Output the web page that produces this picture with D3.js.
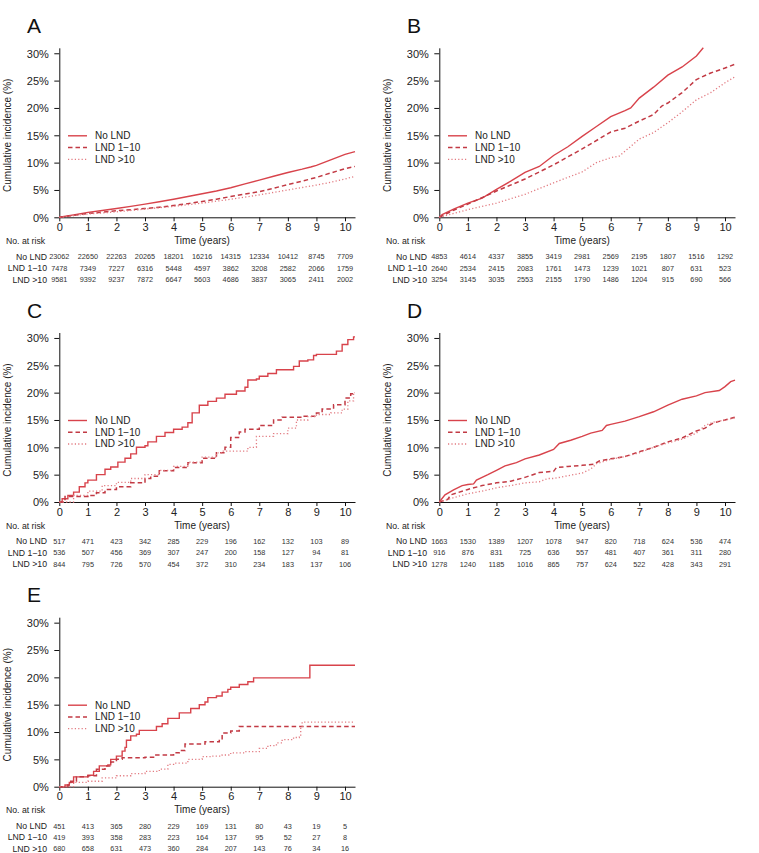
<!DOCTYPE html>
<html>
<head>
<meta charset="utf-8">
<script src="https://cdn.jsdelivr.net/npm/d3@7"></script>
<style>
html,body{margin:0;padding:0;background:#fff;}
svg{display:block;font-family:"Liberation Sans",Arial,Helvetica,sans-serif;}
</style>
</head>
<body>
<svg id="chart" width="759" height="853"></svg>
<script>
// ---------- DATA ----------
const seriesNames = ["No LND", "LND 1\u221210", "LND >10"];
const riskTimes = [0,1,2,3,4,5,6,7,8,9,10];
const xTicks = [0,1,2,3,4,5,6,7,8,9,10];
const yTicks = [0,5,10,15,20,25,30];
const panelLabels = ["A","B","C","D","E"];

// Panel A (cumulative incidence, %)
const A_noLND = [[0,0],[0.5,0.45],[1,0.9],[1.5,1.25],[2,1.6],[2.5,2.0],[3,2.4],[3.5,2.85],[4,3.3],[4.5,3.8],[5,4.3],[5.5,4.8],[6,5.4],[6.5,6.1],[7,6.8],[7.5,7.5],[8,8.2],[8.5,8.8],[8.8,9.2],[9,9.5],[9.5,10.5],[10,11.5],[10.35,12.0]];
const A_lnd110 = [[0,0],[0.5,0.35],[1,0.7],[1.5,0.95],[2,1.2],[2.5,1.4],[3,1.6],[3.5,1.85],[4,2.15],[4.5,2.5],[5,2.9],[5.5,3.3],[6,3.8],[6.5,4.25],[7,4.7],[7.5,5.3],[8,6.0],[8.5,6.6],[9,7.3],[9.5,8.1],[10,8.9],[10.35,9.3]];
const A_lnd10 = [[0,0],[1,0.6],[2,1.0],[3,1.5],[4,2.0],[5,2.6],[6,3.3],[7,4.1],[8,5.0],[9,5.9],[9.5,6.4],[10,7.0],[10.35,7.5]];
// Panel B
const B_noLND = [[0,0],[0.1,0.5],[0.5,1.5],[1,2.6],[1.5,3.5],[2,5.1],[2.5,6.6],[3,8.2],[3.5,9.3],[4,11.3],[4.5,12.9],[5,14.8],[5.5,16.6],[6,18.4],[6.5,19.5],[6.7,20.0],[7,21.8],[7.5,23.8],[8,26.0],[8.5,27.5],[9,29.5],[9.24,31.0]];
const B_lnd110 = [[0,0],[0.5,1.3],[1,2.4],[2,4.8],[3,7.0],[4,9.6],[5,12.5],[6,15.6],[6.5,16.3],[7,17.6],[7.5,18.8],[7.8,20.4],[8,20.9],[8.5,22.8],[9,25.2],[9.5,26.4],[10,27.3],[10.35,28.0]];
const B_lnd10 = [[0,0],[1,1.4],[2,2.6],[3,4.2],[4,6.3],[5,8.3],[5.5,10.0],[6,10.9],[6.3,11.2],[7,14.3],[7.5,15.5],[8,17.3],[8.5,19.3],[9,21.5],[9.5,22.8],[10,24.6],[10.35,25.7]];
// Panel C
const C_noLND = [[0,0],[0.1,0.6],[0.3,1.2],[0.5,1.8],[0.7,2.8],[0.9,3.5],[1,4.0],[1.3,5.0],[1.6,6.0],[1.8,6.4],[2.05,7.3],[2.3,8.0],[2.5,8.8],[2.7,10.0],[3,10.3],[3.1,11.0],[3.4,12.0],[3.7,12.7],[4,13.3],[4.3,13.7],[4.5,14.5],[4.65,16.3],[4.9,17.7],[5.2,18.4],[5.5,19.0],[5.8,19.7],[6.2,20.3],[6.5,21.0],[6.6,22.3],[6.9,22.5],[7,23.0],[7.3,23.5],[7.6,24.2],[8.2,24.8],[8.4,25.8],[8.7,26.0],[8.9,26.8],[9,27.0],[9.7,27.6],[9.9,28.8],[10.1,29.7],[10.3,30.2],[10.35,30.2]];
const C_lnd110 = [[0,0],[0.2,1.0],[1,1.2],[1.3,1.7],[1.6,2.3],[2,2.8],[2.5,3.5],[3,4.3],[3.2,4.7],[3.5,5.7],[4,6.3],[4.5,7.2],[5,8.0],[5.5,9.0],[5.8,10.0],[6,11.8],[6.3,12.8],[6.5,13.3],[7,14.0],[7.5,15.0],[7.8,15.5],[8.5,15.7],[9,16.3],[9.2,17.0],[9.6,17.8],[10,19.0],[10.2,19.8],[10.35,20.0]];
const C_lnd10 = [[0,0],[0.5,1.2],[1,2.0],[1.5,3.0],[2,3.6],[2.5,4.3],[3,5.0],[3.5,5.8],[4,6.5],[4.5,7.3],[5,8.2],[5.5,9.0],[5.7,9.3],[6.6,10.0],[6.9,12.0],[7.5,12.5],[8,13.5],[8.3,15.0],[8.7,15.6],[9,16.0],[9.5,16.3],[9.9,17.0],[10.1,18.5],[10.3,20.0],[10.35,20.0]];
// Panel D
const D_noLND = [[0,0],[0.2,1.3],[0.5,2.2],[0.8,3.0],[1,3.2],[1.2,3.3],[1.3,4.0],[1.7,5.0],[2,5.8],[2.3,6.6],[2.7,7.2],[3,7.9],[3.5,8.6],[4,9.6],[4.2,10.7],[4.6,11.3],[5,12.0],[5.3,12.6],[5.7,13.1],[5.85,14.0],[6,14.2],[6.5,14.8],[7,15.6],[7.5,16.5],[8,17.7],[8.5,18.8],[9,19.4],[9.3,20.0],[9.8,20.4],[10,21.1],[10.2,22.0],[10.35,22.3]];
const D_lnd110 = [[0,0],[0.3,0.5],[0.4,1.3],[1,2.3],[1.5,3.0],[2,3.5],[2.5,3.8],[3,4.5],[3.5,5.4],[4,5.6],[4.1,6.3],[4.5,6.5],[5,6.7],[5.4,6.9],[5.6,7.5],[6,7.9],[6.5,8.3],[7,9.2],[7.5,10.0],[8,11.0],[8.5,11.7],[9,13.0],[9.3,13.5],[9.6,14.5],[10,15.0],[10.35,15.5]];
const D_lnd10 = [[0,0],[0.5,0.8],[1,1.5],[1.5,2.0],[2,2.6],[2.5,3.0],[3,3.5],[3.5,3.7],[3.8,4.3],[4,4.3],[4.5,4.8],[5,5.3],[5.3,6.0],[5.5,7.0],[6,7.8],[6.5,8.3],[7,9.0],[7.5,10.0],[8,10.8],[8.5,11.5],[9,12.6],[9.3,14.0],[9.6,14.6],[10,15.0],[10.35,15.4]];
// Panel E
const E_noLND = [[0,0],[0.2,0.3],[0.35,0.8],[0.5,1.8],[1,2.1],[1.2,2.8],[1.4,3.8],[1.7,4.0],[1.8,5.0],[2,5.6],[2.2,6.5],[2.3,7.2],[2.35,8.5],[2.5,9.3],[2.7,9.6],[2.8,10.3],[3.4,11.0],[3.6,11.5],[3.8,12.5],[4.2,13.5],[4.6,14.3],[4.9,15.0],[5.1,15.5],[5.2,16.3],[5.5,16.6],[5.7,17.3],[5.9,17.8],[6,18.2],[6.3,18.7],[6.6,19.2],[6.8,19.9],[8.77,22.2],[10.35,22.2]];
const E_lnd110 = [[0,0],[0.3,0.3],[0.4,1.0],[0.6,1.8],[1,2.0],[1.3,3.2],[1.6,3.8],[1.8,4.5],[2,5.0],[2.2,5.3],[3,5.4],[3.3,5.8],[4,6.2],[4.2,6.6],[4.4,7.8],[5.1,8.2],[5.6,8.6],[5.7,9.8],[6,10.2],[6.3,11.0],[10.35,11.0]];
const E_lnd10 = [[0,0],[0.5,0.8],[1,1.0],[1.5,1.6],[2,2.0],[2.5,2.4],[3,2.8],[3.5,3.2],[3.8,4.1],[4,4.3],[4.5,5.0],[5,5.5],[5.3,5.6],[5.7,5.8],[6,6.2],[6.5,6.4],[7,7.0],[7.3,7.5],[7.6,8.0],[7.8,8.6],[8.2,9.0],[8.4,9.3],[8.45,10.8],[8.5,11.8],[10.35,11.8]];

// Numbers at risk
const A_risk = [[23062,22650,22263,20265,18201,16216,14315,12334,10412,8745,7709],[7478,7349,7227,6316,5448,4597,3862,3208,2582,2066,1759],[9581,9392,9237,7872,6647,5603,4686,3837,3065,2411,2002]];
const B_risk = [[4853,4614,4337,3855,3419,2981,2569,2195,1807,1516,1292],[2640,2534,2415,2083,1761,1473,1239,1021,807,631,523],[3254,3145,3035,2553,2155,1790,1486,1204,915,690,566]];
const C_risk = [[517,471,423,342,285,229,196,162,132,103,89],[536,507,456,369,307,247,200,158,127,94,81],[844,795,726,570,454,372,310,234,183,137,106]];
const D_risk = [[1663,1530,1389,1207,1078,947,820,718,624,536,474],[916,876,831,725,636,557,481,407,361,311,280],[1278,1240,1185,1016,865,757,624,522,428,343,291]];
const E_risk = [[451,413,365,280,229,169,131,80,43,19,5],[419,393,358,283,223,164,137,95,52,27,8],[680,658,631,473,360,284,207,143,76,34,16]];

const panels = [
  {label:"A", series:[A_noLND,A_lnd110,A_lnd10], risk:A_risk, step:false, col:0, row:0},
  {label:"B", series:[B_noLND,B_lnd110,B_lnd10], risk:B_risk, step:false, col:1, row:0},
  {label:"C", series:[C_noLND,C_lnd110,C_lnd10], risk:C_risk, step:true,  col:0, row:1},
  {label:"D", series:[D_noLND,D_lnd110,D_lnd10], risk:D_risk, step:false, col:1, row:1},
  {label:"E", series:[E_noLND,E_lnd110,E_lnd10], risk:E_risk, step:true,  col:0, row:2}
];

// ---------- STYLE ----------
const colors = ["#d8434b", "#c23a44", "#e27a80"];
const dashes = [null, "4.5,3", "1.2,2.2"];
const widths = [1.4, 1.5, 1.3];

const svg = d3.select("#chart");

panels.forEach(p => {
  const ox = p.col * 380, oy = p.row * 284.7;
  const g = svg.append("g").attr("transform", `translate(${ox},${oy})`);
  const x = d3.scaleLinear().domain([0, 10.35]).range([59.3, 355]);
  const y = d3.scaleLinear().domain([0, 31]).range([217.3, 47.8]);

  g.append("text").attr("x", 27).attr("y", 33).attr("font-size", 21).attr("fill", "#111").text(p.label);

  // axes
  const xAxis = d3.axisBottom(x).tickValues(xTicks).tickSize(4).tickSizeOuter(0).tickPadding(2);
  const yAxis = d3.axisLeft(y).tickValues(yTicks).tickSize(5).tickSizeOuter(0).tickPadding(5.5).tickFormat(d => d + "%");
  const gx = g.append("g").attr("transform", "translate(0,217.3)").call(xAxis);
  const gy = g.append("g").attr("transform", "translate(59.3,0)").call(yAxis);
  [gx, gy].forEach(a => {
    a.select(".domain").attr("stroke", "#111").attr("stroke-width", 1);
    a.selectAll(".tick line").attr("stroke", "#111");
    a.selectAll(".tick text").attr("font-size", 11).attr("fill", "#222").attr("font-family", "Liberation Sans, Arial, sans-serif");
  });
  gy.selectAll(".tick text").attr("dy", "0.35em");

  g.append("text").attr("transform", `translate(11,135.3) rotate(-90)`)
    .attr("text-anchor", "middle").attr("font-size", 10).attr("fill", "#222")
    .text("Cumulative incidence (%)");
  g.append("text").attr("x", 202).attr("y", 244).attr("text-anchor", "middle")
    .attr("font-size", 10).attr("fill", "#222").text("Time (years)");
  g.append("text").attr("x", 6).attr("y", 244).attr("font-size", 8.7).attr("fill", "#222").text("No. at risk");

  // curves
  const line = d3.line().x(d => x(d[0])).y(d => y(d[1]))
    .curve(p.step ? d3.curveStepAfter : d3.curveLinear);
  p.series.forEach((s, i) => {
    g.append("path").datum(s).attr("d", line).attr("fill", "none")
      .attr("stroke", colors[i]).attr("stroke-width", widths[i])
      .attr("stroke-dasharray", dashes[i]);
  });

  // legend
  const legY = [217.3 - 81.5, 217.3 - 69.8, 217.3 - 58];
  seriesNames.forEach((n, i) => {
    g.append("line").attr("x1", 68).attr("x2", 87).attr("y1", legY[i]).attr("y2", legY[i])
      .attr("stroke", colors[i]).attr("stroke-width", widths[i]).attr("stroke-dasharray", dashes[i]);
    g.append("text").attr("x", 95).attr("y", legY[i]).attr("dy", "0.35em")
      .attr("font-size", 10).attr("fill", "#222").text(n);
  });

  // risk table
  const rowY = [217.3 + 39.4, 217.3 + 50.7, 217.3 + 62.2];
  seriesNames.forEach((n, i) => {
    g.append("text").attr("x", 47).attr("y", rowY[i]).attr("dy", "0.35em")
      .attr("text-anchor", "end").attr("font-size", 8.7).attr("fill", "#222").text(n);
    g.selectAll(null).data(p.risk[i]).enter().append("text")
      .attr("x", (d, j) => x(riskTimes[j])).attr("y", rowY[i]).attr("dy", "0.35em")
      .attr("text-anchor", "middle").attr("font-size", 7.3).attr("fill", "#333")
      .text(d => d);
  });
});
</script>
</body>
</html>
